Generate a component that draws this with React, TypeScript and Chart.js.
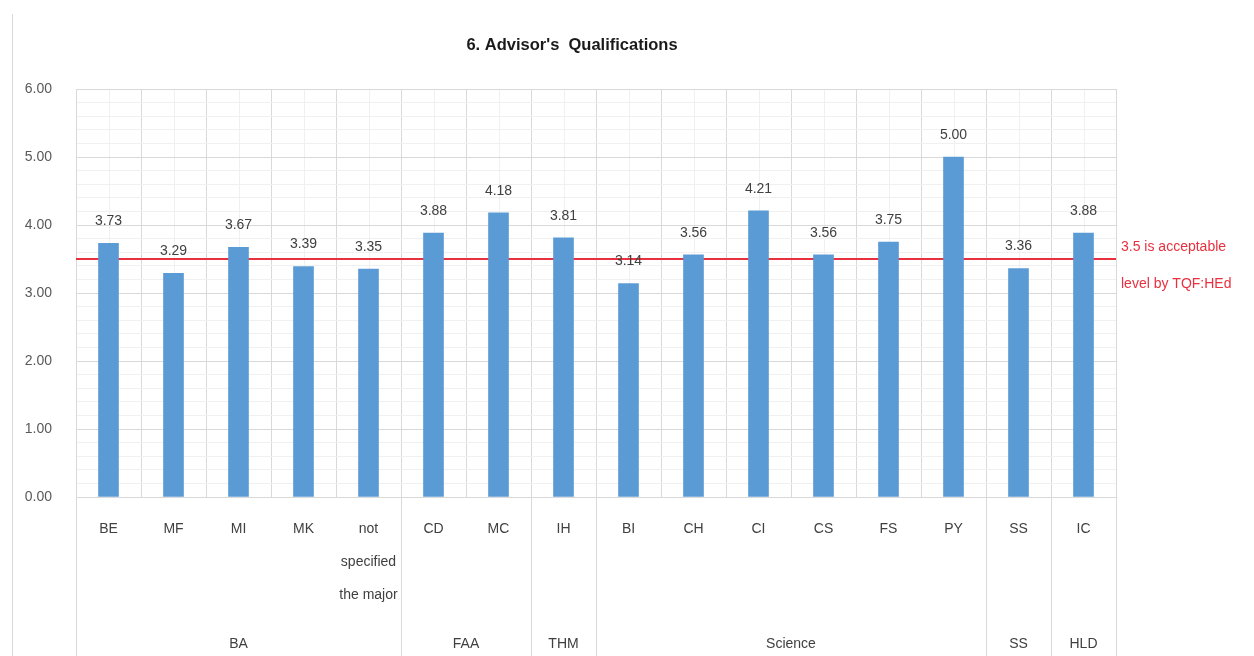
import React, { useEffect, useRef } from "react";
import { Chart, registerables } from "chart.js";

Chart.register(...registerables);

const TITLE = "6. Advisor's  Qualifications";
const categories: (string | string[])[] = [
  "BE", "MF", "MI", "MK", ["not", "specified", "the major"],
  "CD", "MC", "IH", "BI", "CH", "CI", "CS", "FS", "PY", "SS", "IC",
];
const values = [3.73, 3.29, 3.67, 3.39, 3.35, 3.88, 4.18, 3.81, 3.14, 3.56, 4.21, 3.56, 3.75, 5.0, 3.36, 3.88];
const groups = ["BA", "FAA", "THM", "Science", "SS", "HLD"];
const groupSizes = [5, 2, 1, 6, 1, 1];
const threshold = 3.5;
const thresholdLabel = ["3.5 is acceptable", "level by TQF:HEd"];
const yMin = 0;
const yMax = 6;
const yStep = 0.2;

const FONT = "'Liberation Sans', Arial, sans-serif";
const BAR = "#5B9BD5";
const TEXT = "#404040";
const GRID = "#d9d9d9";
const MINOR = "#f0f0f0";
const RED = "#E8303F";

const isMajor = (v: number) => Math.abs(v - Math.round(v)) < 1e-6;

const overlay = {
  id: "overlay",
  beforeDraw(chart: any) {
    const ctx = chart.ctx;
    const xs = chart.scales.x;
    const { top, bottom } = chart.chartArea;
    ctx.save();
    ctx.strokeStyle = MINOR;
    ctx.lineWidth = 1;
    categories.forEach((_, i) => {
      const x = Math.round(xs.getPixelForValue(i)) + 0.5;
      ctx.beginPath();
      ctx.moveTo(x, top);
      ctx.lineTo(x, bottom);
      ctx.stroke();
    });
    ctx.restore();
  },
  beforeDatasetsDraw(chart: any) {
    const ctx = chart.ctx;
    const ys = chart.scales.y;
    const { left, right } = chart.chartArea;
    const yT = Math.round(ys.getPixelForValue(threshold));
    ctx.save();
    ctx.fillStyle = RED;
    ctx.fillRect(left, yT - 1, right - left, 2);
    ctx.restore();
  },
  afterDraw(chart: any) {
    const ctx = chart.ctx;
    const xs = chart.scales.x;
    const ys = chart.scales.y;
    const { right, bottom } = chart.chartArea;
    const H = chart.height;
    ctx.save();

    // left frame line
    ctx.strokeStyle = GRID;
    ctx.lineWidth = 1;
    ctx.beginPath();
    ctx.moveTo(12.5, 14);
    ctx.lineTo(12.5, H);
    ctx.stroke();

    // title
    ctx.fillStyle = "#1a1a1a";
    ctx.font = `bold 16.5px ${FONT}`;
    ctx.textAlign = "center";
    ctx.textBaseline = "middle";
    ctx.fillText(TITLE, 572, 45);

    // threshold label
    const yT = Math.round(ys.getPixelForValue(threshold));
    ctx.fillStyle = RED;
    ctx.font = `14px ${FONT}`;
    ctx.textAlign = "left";
    ctx.fillText(thresholdLabel[0], right + 5, yT - 12);
    ctx.fillText(thresholdLabel[1], right + 5, yT + 25);

    // data labels
    ctx.fillStyle = TEXT;
    ctx.textAlign = "center";
    const meta = chart.getDatasetMeta(0);
    meta.data.forEach((bar: any, i: number) => {
      ctx.fillText(values[i].toFixed(2), bar.x, bar.y - 22);
    });

    // category labels
    categories.forEach((c, i) => {
      const x = xs.getPixelForValue(i);
      const lines = Array.isArray(c) ? c : [c];
      lines.forEach((ln, k) => ctx.fillText(ln, x, bottom + 32 + k * 33));
    });

    // group separators and labels
    const w = xs.getPixelForValue(1) - xs.getPixelForValue(0);
    const edge = (i: number) => xs.getPixelForValue(0) - w / 2 + i * w;
    let start = 0;
    const bounds = [0];
    groupSizes.forEach((s) => { start += s; bounds.push(start); });
    ctx.strokeStyle = GRID;
    ctx.lineWidth = 1;
    bounds.forEach((b) => {
      const x = Math.round(edge(b)) + 0.5;
      ctx.beginPath();
      ctx.moveTo(x, bottom);
      ctx.lineTo(x, H);
      ctx.stroke();
    });
    groups.forEach((g, k) => {
      const cx = (edge(bounds[k]) + edge(bounds[k + 1])) / 2;
      ctx.fillText(g, cx, bottom + 147);
    });
    ctx.restore();
  },
};

export default function App() {
  const ref = useRef<HTMLCanvasElement>(null);
  useEffect(() => {
    if (!ref.current) return;
    const chart = new Chart(ref.current, {
      type: "bar",
      data: {
        labels: categories as any,
        datasets: [{ data: values, backgroundColor: BAR, barThickness: 20 }],
      },
      options: {
        animation: false,
        responsive: false,
        devicePixelRatio: 1,
        layout: { padding: { top: 89, left: 0, right: 138, bottom: 0 } },
        plugins: { legend: { display: false }, tooltip: { enabled: false }, title: { display: false } },
        scales: {
          x: {
            ticks: { display: false },
            grid: { color: GRID, drawTicks: false, offset: true },
            border: { color: GRID },
            afterFit: (s: any) => { s.height = 159; },
          },
          y: {
            min: yMin,
            max: yMax,
            ticks: {
              stepSize: yStep,
              autoSkip: false,
              padding: 24,
              color: "#595959",
              font: { family: FONT, size: 14 },
              callback: (v: any) => (isMajor(Number(v)) ? Number(v).toFixed(2) : ""),
            },
            grid: {
              drawTicks: false,
              color: (c: any) => (isMajor(c.tick.value) ? GRID : MINOR),
            },
            border: { color: GRID },
            afterFit: (s: any) => { s.width = 76; },
          },
        },
      },
      plugins: [overlay],
    });
    return () => chart.destroy();
  }, []);
  return (
    <div style={{ position: "fixed", left: 0, top: 0, width: 1254, height: 656, background: "#fff" }}>
      <canvas ref={ref} width={1254} height={656} />
    </div>
  );
}
